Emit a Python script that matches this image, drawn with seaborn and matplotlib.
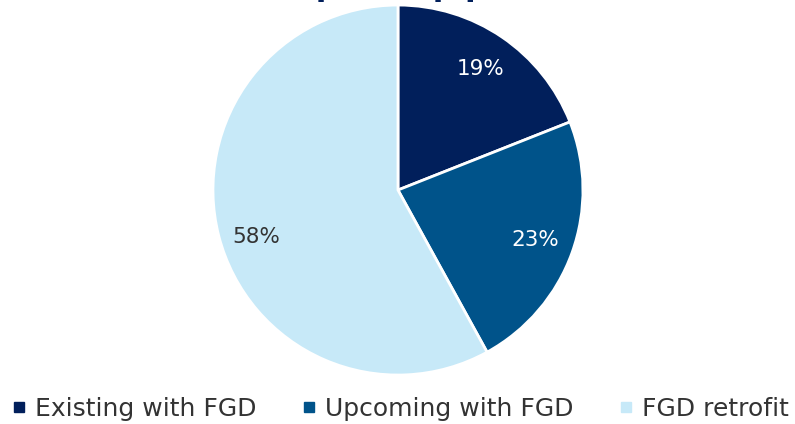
import matplotlib
matplotlib.use("Agg")
import matplotlib.pyplot as plt
from matplotlib.lines import Line2D
import seaborn as sns

# data
categories = ["Existing with FGD", "Upcoming with FGD", "FGD retrofit"]
shares = [19, 23, 58]
colors = ["#011f5b", "#00538a", "#c7e9f8"]
label_colors = ["white", "white", "#333333"]
title = "Coal power pipeline (%)"

sns.set_theme(style="white")
plt.rcParams["font.family"] = ["DejaVu Sans"]

fig = plt.figure(figsize=(7.95, 4.24), dpi=100)
ax = fig.add_axes([0.2666, 0.1133, 0.468, 0.877])

wedges, texts, autotexts = ax.pie(
    shares,
    colors=colors,
    startangle=90,
    counterclock=False,
    autopct="%d%%",
    pctdistance=0.79,
    wedgeprops={"edgecolor": "white", "linewidth": 2},
    textprops={"fontsize": 15.5},
)
for t, c in zip(autotexts, label_colors):
    t.set_color(c)
# the big slice label sits a little lower in the original
x, y = autotexts[2].get_position()
autotexts[2].set_position((x, y - 0.06))
ax.set_xlim(-1.005, 1.005)
ax.set_ylim(-1.005, 1.005)
ax.set_aspect("equal")

# title sits above the top edge, only its descenders show
fig.text(640 / 795, 1 + 4 / 424, title, ha="right", va="baseline",
         fontsize=22, fontweight="bold", color="#011f5b")

handles = [Line2D([0], [0], marker="s", linestyle="", markersize=6.5,
                  markerfacecolor=c, markeredgecolor=c) for c in colors]
fig.legend(handles, categories, loc="center left", ncol=3, frameon=False,
           fontsize=18, labelcolor="#333333",
           bbox_to_anchor=(14 / 795, 1 - 409 / 424),
           borderaxespad=0, borderpad=0,
           handletextpad=0.45, columnspacing=1.88, handlelength=0.4)

fig.savefig("out.png", dpi=100)
